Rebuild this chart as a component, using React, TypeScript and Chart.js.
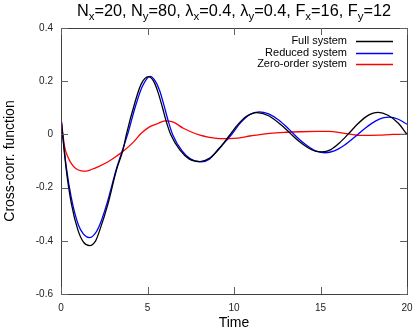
import React, { useEffect, useRef } from "react";
import { Chart, registerables } from "chart.js";

Chart.register(...registerables);

// ---- data ----
const T_FULL = [0, 0.31, 0.6, 0.98, 1.3, 1.66, 2.0, 2.24, 2.72, 3.2, 3.58, 3.78, 4.26, 4.64, 5.05, 5.35, 5.6, 5.85, 6.1, 6.34, 6.88, 7.4, 8.03, 8.6, 9.2, 9.7, 10.2, 10.7, 11.31, 12.0, 12.7, 13.2, 13.7, 14.3, 14.7, 15.07, 15.6, 16.1, 16.6, 17.1, 17.6, 18.0, 18.34, 18.9, 19.5, 20];
const V_FULL = [0.06, -0.135, -0.26, -0.36, -0.405, -0.418, -0.4, -0.36, -0.26, -0.135, -0.059, 0.0, 0.117, 0.19, 0.217, 0.2, 0.16, 0.105, 0.045, 0.0, -0.059, -0.092, -0.102, -0.089, -0.05, -0.007, 0.035, 0.067, 0.082, 0.07, 0.037, 0.007, -0.023, -0.051, -0.063, -0.066, -0.057, -0.032, 0.001, 0.036, 0.065, 0.079, 0.083, 0.072, 0.042, 0.0];

const T_REDUCED = [0, 0.3, 0.6, 1.0, 1.3, 1.64, 2.0, 2.3, 2.7, 3.2, 3.6, 3.85, 4.3, 4.7, 5.15, 5.45, 5.7, 5.95, 6.2, 6.45, 7.0, 7.5, 8.1, 8.6, 9.1, 9.8, 10.4, 10.9, 11.45, 12.0, 12.6, 13.2, 13.8, 14.4, 14.8, 15.26, 15.8, 16.4, 17.0, 17.6, 18.2, 18.6, 18.98, 19.5, 20];
const V_REDUCED = [0.06, -0.12, -0.24, -0.34, -0.375, -0.388, -0.37, -0.33, -0.25, -0.13, -0.05, 0.0, 0.105, 0.18, 0.218, 0.2, 0.165, 0.11, 0.05, 0.0, -0.062, -0.093, -0.103, -0.092, -0.055, -0.005, 0.045, 0.074, 0.085, 0.077, 0.053, 0.018, -0.02, -0.05, -0.064, -0.069, -0.062, -0.04, -0.009, 0.024, 0.051, 0.062, 0.065, 0.057, 0.038];

const T_ZERO = [0, 0.21, 0.4, 0.6, 0.85, 1.18, 1.45, 1.75, 2.2, 2.72, 3.2, 3.68, 4.2, 4.64, 5.14, 5.6, 6.01, 6.5, 7.07, 7.5, 8.03, 8.5, 9.0, 9.5, 9.96, 10.5, 10.9, 11.5, 12.08, 13.0, 13.8, 14.8, 15.5, 16.2, 16.7, 17.3, 18.4, 19.2, 20];
const V_ZERO = [0.062, -0.047, -0.085, -0.11, -0.128, -0.137, -0.138, -0.132, -0.12, -0.103, -0.082, -0.059, -0.028, 0.004, 0.029, 0.041, 0.051, 0.046, 0.023, 0.01, -0.003, -0.01, -0.015, -0.016, -0.015, -0.011, -0.006, -0.001, 0.004, 0.008, 0.01, 0.011, 0.011, 0.006, 0.001, -0.004, -0.003, 0.0, 0.0];

const SERIES_LABELS = ["Full system", "Reduced system", "Zero-order system"];
const SERIES_COLORS = ["#000000", "#0000ff", "#ff0000"];

const X_TICKS = [0, 5, 10, 15, 20];
const Y_TICKS = [-0.6, -0.4, -0.2, 0, 0.2, 0.4];
const X_TITLE = "Time";
const Y_TITLE = "Cross-corr. function";
// title pieces: [text, isSubscript]
const TITLE_PARTS: [string, boolean][] = [
  ["N", false], ["x", true], ["=20, N", false], ["y", true], ["=80, \u03bb", false], ["x", true],
  ["=0.4, \u03bb", false], ["y", true], ["=0.4, F", false], ["x", true], ["=16, F", false], ["y", true], ["=12", false],
];

const FONT = "'Liberation Sans', Arial, Helvetica, sans-serif";

function pts(t: number[], v: number[]) {
  return t.map((x, i) => ({ x, y: v[i] }));
}

const decorPlugin = {
  id: "decor",
  afterDraw(chart: any) {
    const { ctx, chartArea } = chart;
    const { left, right, top, bottom } = chartArea;
    const xs = chart.scales.x;
    const ys = chart.scales.y;
    ctx.save();
    // frame
    ctx.strokeStyle = "#404040";
    ctx.lineWidth = 1;
    ctx.strokeRect(Math.round(left) + 0.5, Math.round(top) + 0.5, Math.round(right - left), Math.round(bottom - top));
    // inward ticks on all sides
    const tl = 7;
    ctx.strokeStyle = "#606060";
    ctx.beginPath();
    X_TICKS.forEach((t) => {
      const px = Math.round(xs.getPixelForValue(t)) + 0.5;
      ctx.moveTo(px, bottom);
      ctx.lineTo(px, bottom - tl);
      ctx.moveTo(px, top);
      ctx.lineTo(px, top + tl);
    });
    Y_TICKS.forEach((t) => {
      const py = Math.round(ys.getPixelForValue(t)) + 0.5;
      ctx.moveTo(left, py);
      ctx.lineTo(left + tl, py);
      ctx.moveTo(right, py);
      ctx.lineTo(right - tl, py);
    });
    ctx.stroke();

    // legend
    ctx.font = `11px ${FONT}`;
    ctx.textAlign = "right";
    ctx.textBaseline = "middle";
    const textRight = 347;
    const lineX0 = 356;
    const lineX1 = 393;
    SERIES_LABELS.forEach((lab, i) => {
      const y = 41 + i * 11.5;
      ctx.fillStyle = "#000";
      ctx.fillText(lab, textRight, y);
      ctx.strokeStyle = SERIES_COLORS[i];
      ctx.lineWidth = 1.3;
      ctx.beginPath();
      ctx.moveTo(lineX0, Math.round(y) + 0.5);
      ctx.lineTo(lineX1, Math.round(y) + 0.5);
      ctx.stroke();
    });

    // title with subscripts
    const mainFont = `16.3px ${FONT}`;
    const subFont = `11.5px ${FONT}`;
    let total = 0;
    TITLE_PARTS.forEach(([s, sub]) => {
      ctx.font = sub ? subFont : mainFont;
      total += ctx.measureText(s).width;
    });
    let x = (left + right) / 2 - total / 2;
    const base = 16;
    ctx.textAlign = "left";
    ctx.textBaseline = "alphabetic";
    ctx.fillStyle = "#000";
    TITLE_PARTS.forEach(([s, sub]) => {
      ctx.font = sub ? subFont : mainFont;
      ctx.fillText(s, x, sub ? base + 4 : base);
      x += ctx.measureText(s).width;
    });

    // axis titles
    ctx.font = `14px ${FONT}`;
    ctx.textAlign = "center";
    ctx.textBaseline = "middle";
    ctx.fillText(X_TITLE, (left + right) / 2, 323);
    ctx.save();
    ctx.translate(10, (top + bottom) / 2);
    ctx.rotate(-Math.PI / 2);
    ctx.fillText(Y_TITLE, 0, 0);
    ctx.restore();
    ctx.restore();
  },
};

export default function App() {
  const ref = useRef<HTMLCanvasElement | null>(null);
  useEffect(() => {
    if (!ref.current) return;
    const ds = [
      pts(T_FULL, V_FULL),
      pts(T_REDUCED, V_REDUCED),
      pts(T_ZERO, V_ZERO),
    ];
    const chart = new Chart(ref.current, {
      type: "line",
      data: {
        datasets: ds.map((d, i) => ({
          label: SERIES_LABELS[i],
          data: d,
          borderColor: SERIES_COLORS[i],
          borderWidth: 1.3,
          pointRadius: 0,
          fill: false,
          cubicInterpolationMode: "monotone" as const,
        })),
      },
      options: {
        responsive: false,
        animation: false,
        layout: { padding: { left: 0, right: 8, top: 28, bottom: 0 } },
        plugins: { legend: { display: false }, title: { display: false }, tooltip: { enabled: false } },
        scales: {
          x: {
            type: "linear",
            min: 0,
            max: 20,
            afterBuildTicks: (s: any) => { s.ticks = X_TICKS.map((v) => ({ value: v })); },
            afterFit: (s: any) => { s.height = 37; s.paddingLeft = 0; s.paddingRight = 0; },
            grid: { display: false, drawTicks: false },
            border: { display: false },
            ticks: { padding: 8, color: "#222", font: { family: FONT, size: 10 }, maxRotation: 0, callback: (v: any) => String(v) },
          },
          y: {
            type: "linear",
            min: -0.6,
            max: 0.4,
            afterBuildTicks: (s: any) => { s.ticks = Y_TICKS.map((v) => ({ value: v })); },
            afterFit: (s: any) => { s.width = 61; s.paddingTop = 0; s.paddingBottom = 0; },
            grid: { display: false, drawTicks: false },
            border: { display: false },
            ticks: { padding: 8, color: "#222", font: { family: FONT, size: 10 }, callback: (v: any) => String(Number(Number(v).toFixed(1))) },
          },
        },
      },
      plugins: [decorPlugin],
    });
    return () => chart.destroy();
  }, []);
  return (
    <div style={{ position: "fixed", left: 0, top: 0, width: 415, height: 331, background: "#fff" }}>
      <canvas ref={ref} width={415} height={331} style={{ display: "block" }} />
    </div>
  );
}
